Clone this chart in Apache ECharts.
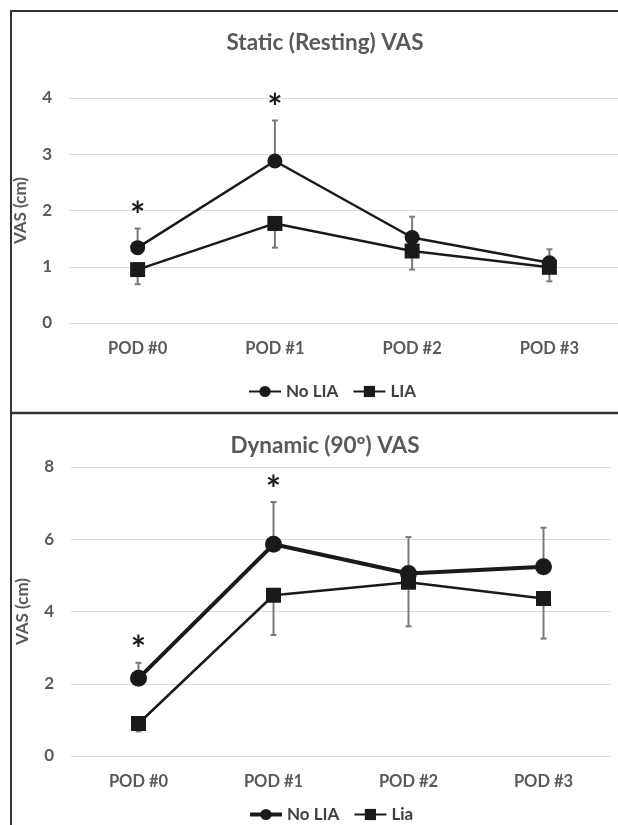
<!DOCTYPE html>
<html>
<head>
<meta charset="utf-8">
<script src="https://cdn.jsdelivr.net/npm/echarts@6/dist/echarts.min.js"></script>
<style>
  html, body { margin: 0; padding: 0; background: #fff; }
  #chart { width: 618px; height: 825px; }
</style>
</head>
<body>
<div id="chart"></div>
<script>
const categories = ['POD #0', 'POD #1', 'POD #2', 'POD #3'];

// Static (resting) VAS
const staticNoLia = [1.34, 2.88, 1.52, 1.07];
const staticNoLiaUpper = [1.68, 3.6, 1.89, 1.31];
const staticLia = [0.95, 1.77, 1.28, 0.99];
const staticLiaLower = [0.69, 1.34, 0.95, 0.74];
const staticSig = [0, 1];

// Dynamic (90º) VAS
const dynamicNoLia = [2.15, 5.86, 5.05, 5.24];
const dynamicNoLiaUpper = [2.58, 7.03, 6.06, 6.32];
const dynamicLia = [0.9, 4.45, 4.81, 4.36];
const dynamicLiaLower = [0.68, 3.35, 3.59, 3.25];
const dynamicSig = [0, 1];

const FONT = 'Lato';
const GREY = '#595959';
const INK = '#1a1a1a';

function errorData(means, bounds) {
  return means.map((m, i) => [i, m, bounds[i]]);
}

function renderError(params, api) {
  const p0 = api.coord([api.value(0), api.value(1)]);
  const p1 = api.coord([api.value(0), api.value(2)]);
  const style = { stroke: '#7a7a7a', lineWidth: 2 };
  return {
    type: 'group',
    children: [
      { type: 'line', shape: { x1: p0[0], y1: p0[1], x2: p1[0], y2: p1[1] }, style },
      { type: 'line', shape: { x1: p1[0] - 3, y1: p1[1], x2: p1[0] + 3, y2: p1[1] }, style }
    ]
  };
}

function renderStar(params, api) {
  const p = api.coord([api.value(0), api.value(1)]);
  return {
    type: 'text',
    x: p[0],
    y: p[1] - 12,
    style: {
      text: '*',
      fill: INK,
      font: 'bold 36px ' + FONT,
      align: 'center',
      verticalAlign: 'middle'
    }
  };
}

function xAxisFor(gridIndex) {
  return {
    type: 'category',
    gridIndex,
    data: categories,
    axisLine: { show: false },
    axisTick: { show: false },
    axisLabel: { color: GREY, fontFamily: FONT, fontWeight: 'bold', fontSize: 16.5, margin: 17 }
  };
}

function yAxisFor(gridIndex, max, interval) {
  return {
    type: 'value',
    gridIndex,
    min: 0,
    max,
    interval,
    name: 'VAS (cm)',
    nameLocation: 'middle',
    nameGap: 40,
    nameTextStyle: { color: GREY, fontFamily: FONT, fontWeight: 'bold', fontSize: 17 },
    axisLine: { show: false },
    axisTick: { show: false },
    axisLabel: { color: GREY, fontFamily: FONT, fontWeight: 'bold', fontSize: 17, margin: 17 },
    splitLine: { lineStyle: { color: '#dcdcdc', width: 1 } }
  };
}

function lineSeries(name, data, axis, symbol, size, width) {
  return {
    name,
    type: 'line',
    xAxisIndex: axis,
    yAxisIndex: axis,
    data,
    symbol,
    symbolSize: size,
    showAllSymbol: true,
    lineStyle: { color: INK, width },
    itemStyle: { color: INK },
    z: 3,
    animation: false
  };
}

function errorSeries(means, bounds, axis) {
  return {
    type: 'custom',
    xAxisIndex: axis,
    yAxisIndex: axis,
    data: errorData(means, bounds),
    renderItem: renderError,
    z: 2,
    silent: true,
    animation: false
  };
}

function starSeries(sig, bounds, axis) {
  return {
    type: 'custom',
    xAxisIndex: axis,
    yAxisIndex: axis,
    data: sig.map(i => [i, bounds[i]]),
    renderItem: renderStar,
    z: 4,
    silent: true,
    animation: false
  };
}

const legendText = { color: '#404040', fontFamily: FONT, fontWeight: 'bold', fontSize: 17 };

const chart = echarts.init(document.getElementById('chart'));
chart.setOption({
  backgroundColor: '#fff',
  animation: false,
  title: [
    { text: 'Static (Resting) VAS', left: 320, top: 26, textAlign: 'center',
      textStyle: { color: GREY, fontFamily: FONT, fontWeight: 'bold', fontSize: 22.5 } },
    { text: 'Dynamic (90º) VAS', left: 320, top: 429, textAlign: 'center',
      textStyle: { color: GREY, fontFamily: FONT, fontWeight: 'bold', fontSize: 22.5 } }
  ],
  legend: [
    { left: 243, top: 378, itemWidth: 32, itemHeight: 14, itemGap: 14, textStyle: legendText,
      data: ['No LIA', 'LIA'] },
    { left: 243, top: 801, itemWidth: 32, itemHeight: 14, itemGap: 14, textStyle: legendText,
      data: [{ name: 'No LIA', lineStyle: { width: 4 } }, 'Lia'] }
  ],
  grid: [
    { left: 69, top: 98, width: 560, height: 225 },
    { left: 71, top: 467, width: 540, height: 289 }
  ],
  xAxis: [xAxisFor(0), xAxisFor(1)],
  yAxis: [yAxisFor(0, 4, 1), yAxisFor(1, 8, 2)],
  series: [
    errorSeries(staticNoLia, staticNoLiaUpper, 0),
    errorSeries(staticLia, staticLiaLower, 0),
    lineSeries('No LIA', staticNoLia, 0, 'circle', 15, 2.5),
    lineSeries('LIA', staticLia, 0, 'rect', 15, 2.5),
    starSeries(staticSig, staticNoLiaUpper, 0),
    errorSeries(dynamicNoLia, dynamicNoLiaUpper, 1),
    errorSeries(dynamicLia, dynamicLiaLower, 1),
    lineSeries('No LIA', dynamicNoLia, 1, 'circle', 17, 4),
    lineSeries('Lia', dynamicLia, 1, 'rect', 15, 2.5),
    starSeries(dynamicSig, dynamicNoLiaUpper, 1)
  ],
  graphic: [
    { type: 'line', shape: { x1: 10, y1: 11, x2: 618, y2: 11 }, style: { stroke: '#333', lineWidth: 2 } },
    { type: 'line', shape: { x1: 11, y1: 10, x2: 11, y2: 825 }, style: { stroke: '#333', lineWidth: 2 } },
    { type: 'line', shape: { x1: 10, y1: 413, x2: 618, y2: 413 }, style: { stroke: '#333', lineWidth: 2.5 } }
  ]
});
</script>
</body>
</html>
